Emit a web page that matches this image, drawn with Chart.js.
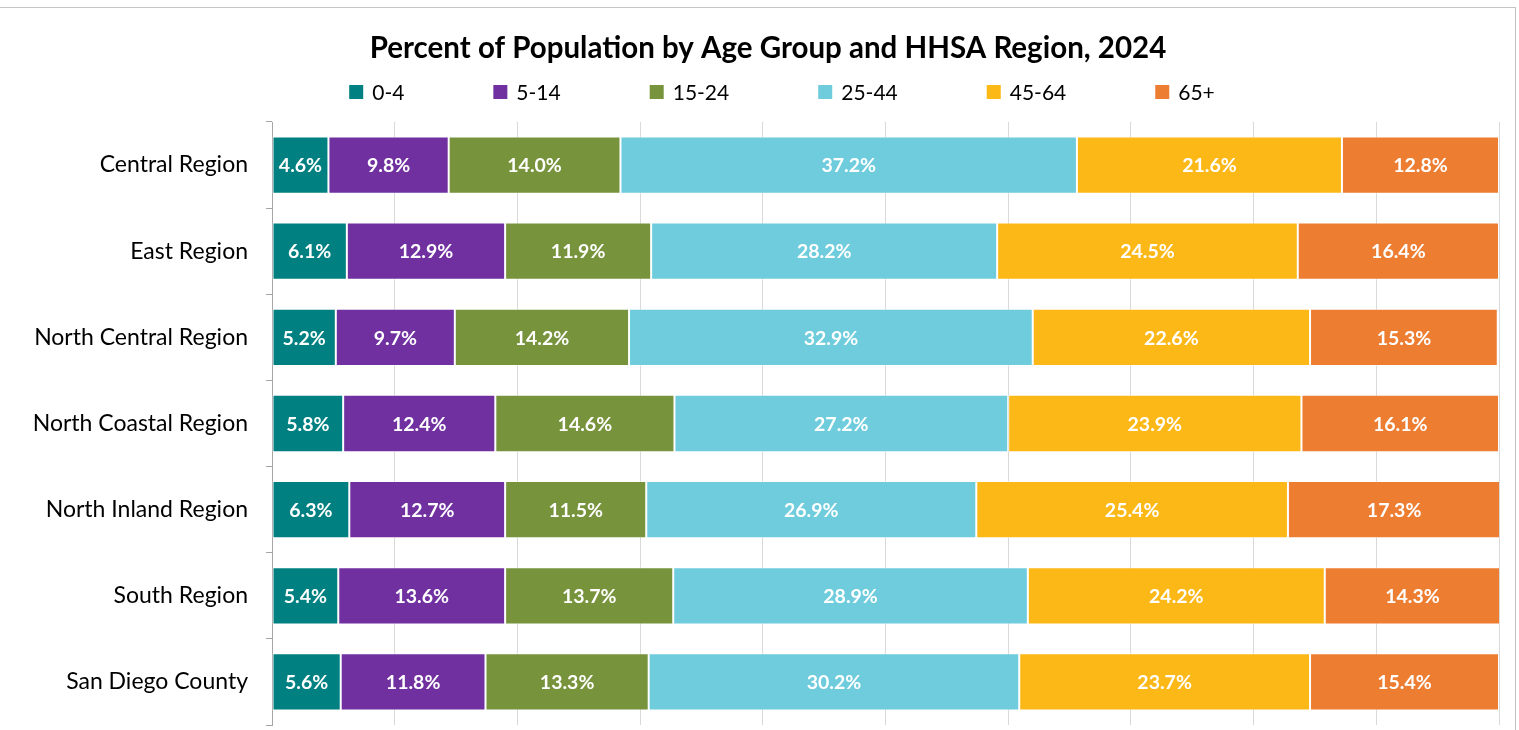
<!DOCTYPE html>
<html>
<head>
<meta charset="utf-8">
<title>Percent of Population by Age Group and HHSA Region, 2024</title>
<script src="https://cdn.jsdelivr.net/npm/chart.js@4.4.1/dist/chart.umd.min.js"></script>
<style>
  html, body { margin: 0; padding: 0; background: #ffffff; overflow: hidden; }
  /* outer chart frame: only its top and right edges fall inside the window */
  #frame {
    position: absolute; left: -10px; top: 7px;
    width: 1524px; height: 760px;
    border: 1px solid #c4c4c4;
  }
  #wrap { position: absolute; left: 0; top: 0; width: 1519px; height: 730px; }
</style>
</head>
<body>
<div id="frame"></div>
<div id="wrap"><canvas id="ageChart" width="1519" height="730"></canvas></div>
<script>
  const chartTitle = "Percent of Population by Age Group and HHSA Region, 2024";

  // regions (rows, top to bottom)
  const regions = [
    "Central Region",
    "East Region",
    "North Central Region",
    "North Coastal Region",
    "North Inland Region",
    "South Region",
    "San Diego County"
  ];

  // age groups (stack order, left to right)
  const ageGroups = ["0-4", "5-14", "15-24", "25-44", "45-64", "65+"];
  const ageColors = ["#008080", "#7030A0", "#77933C", "#6ECCDC", "#FCB817", "#ED7D31"];

  // percent of population in each age group, one array per group (same order as regions)
  const age0to4   = [4.6, 6.1, 5.2, 5.8, 6.3, 5.4, 5.6];
  const age5to14  = [9.8, 12.9, 9.7, 12.4, 12.7, 13.6, 11.8];
  const age15to24 = [14.0, 11.9, 14.2, 14.6, 11.5, 13.7, 13.3];
  const age25to44 = [37.2, 28.2, 32.9, 27.2, 26.9, 28.9, 30.2];
  const age45to64 = [21.6, 24.5, 22.6, 23.9, 25.4, 24.2, 23.7];
  const age65plus = [12.8, 16.4, 15.3, 16.1, 17.3, 14.3, 15.4];

  const seriesValues = [age0to4, age5to14, age15to24, age25to44, age45to64, age65plus];

  // x axis: 0..100 percent, gridline every 10
  const xTicks = { min: 0, max: 100, step: 10 };

  const FONT = "Lato, 'Open Sans', sans-serif";

  // white value labels centred on each bar segment
  const segmentLabels = {
    id: "segmentLabels",
    afterDatasetsDraw(chart) {
      const { ctx } = chart;
      ctx.save();
      ctx.fillStyle = "#ffffff";
      ctx.font = "bold 19.5px " + FONT;
      ctx.textAlign = "center";
      ctx.textBaseline = "middle";
      chart.data.datasets.forEach((ds, i) => {
        chart.getDatasetMeta(i).data.forEach((bar, j) => {
          const { x, y, base } = bar.getProps(["x", "y", "base"], true);
          ctx.fillText(ds.data[j].toFixed(1) + "%", (x + base) / 2, y + 1);
        });
      });
      ctx.restore();
    }
  };

  // title + legend row (the Excel original centres these a bit right of the canvas middle)
  const header = {
    id: "header",
    afterDraw(chart) {
      const { ctx } = chart;
      ctx.save();
      ctx.textBaseline = "middle";

      ctx.fillStyle = "#000000";
      ctx.textAlign = "center";
      ctx.font = "bold 29.5px " + FONT;
      ctx.fillText(chartTitle, 768, 48);

      const box = 14, gapText = 9, gapItem = 89, centreX = 782, midY = 92;
      ctx.textAlign = "left";
      ctx.font = "21px " + FONT;
      const widths = ageGroups.map(t => box + gapText + ctx.measureText(t).width);
      const total = widths.reduce((a, b) => a + b, 0) + gapItem * (widths.length - 1);
      let x = centreX - total / 2;
      ageGroups.forEach((label, i) => {
        ctx.fillStyle = ageColors[i];
        ctx.fillRect(x, midY - box / 2, box, box);
        ctx.fillStyle = "#000000";
        ctx.fillText(label, x + box + gapText, midY + 1);
        x += widths[i] + gapItem;
      });
      ctx.restore();
    }
  };

  new Chart(document.getElementById("ageChart").getContext("2d"), {
    type: "bar",
    data: {
      labels: regions,
      datasets: ageGroups.map((g, i) => ({
        label: g,
        data: seriesValues[i],
        backgroundColor: ageColors[i],
        borderColor: "rgba(255,255,255,0.55)",
        borderWidth: 1,
        borderSkipped: false,
        categoryPercentage: 1.0,
        barPercentage: 0.665
      }))
    },
    options: {
      indexAxis: "y",
      responsive: false,
      animation: false,
      layout: { padding: { top: 122, right: 20, bottom: 5, left: 0 } },
      plugins: {
        legend: { display: false },
        title: { display: false },
        tooltip: { enabled: false }
      },
      scales: {
        x: {
          stacked: true,
          min: xTicks.min,
          max: xTicks.max,
          afterFit(scale) { scale.height = 0; },
          ticks: { display: false, stepSize: xTicks.step },
          grid: { color: "#d9d9d9", lineWidth: 1, drawTicks: false },
          border: { display: false }
        },
        y: {
          stacked: true,
          // fixed width so the plot starts at x = 272; labels sit in the band centres,
          // so no extra room is needed above or below them
          afterFit(scale) {
            scale.width = 272;
            scale.paddingTop = 0;
            scale.paddingBottom = 0;
          },
          ticks: {
            color: "#000000",
            font: { family: FONT, size: 23 },
            padding: 18
          },
          grid: {
            drawOnChartArea: false,
            drawTicks: true,
            tickLength: 6,
            color: "#a6a6a6"
          },
          border: { display: true, color: "#a6a6a6" }
        }
      }
    },
    plugins: [segmentLabels, header]
  });
</script>
</body>
</html>
